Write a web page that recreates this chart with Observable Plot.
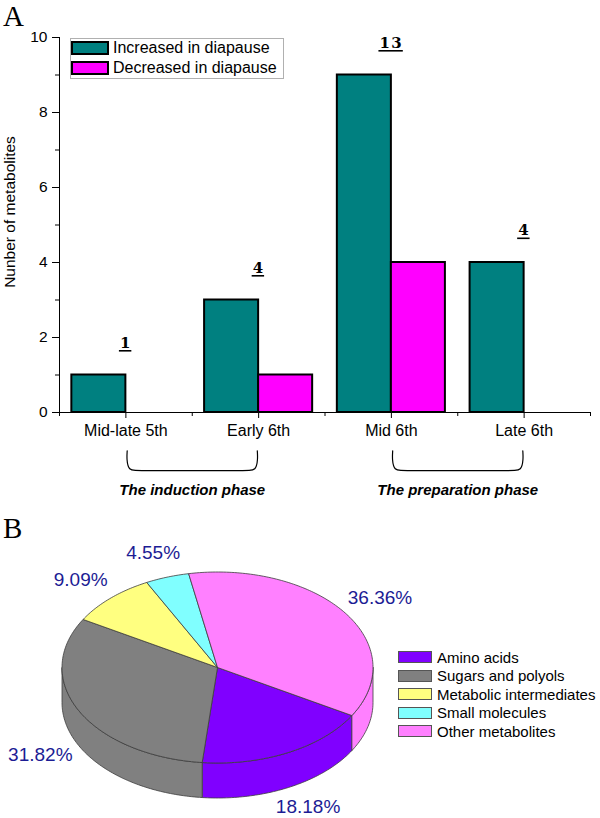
<!DOCTYPE html>
<html><head><meta charset="utf-8">
<script src="https://cdn.jsdelivr.net/npm/d3@7"></script>
<script src="https://cdn.jsdelivr.net/npm/@observablehq/plot@0.6"></script>
<style>
body{margin:0;background:#fff;}
#wrap{position:relative;width:600px;height:818px;font-family:"Liberation Sans",Arial,sans-serif;overflow:hidden;background:#fff;}
.abs{position:absolute;}
.panel{font-family:"Liberation Serif","Times New Roman",serif;font-size:29px;line-height:33px;}
</style></head><body><div id="wrap"></div>
<script>
// ---------- Data: panel A ----------
const stages = ["Mid-late 5th", "Early 6th", "Mid 6th", "Late 6th"];
const seriesNames = ["Increased in diapause", "Decreased in diapause"];
const increased = [1, 3, 9, 4];
const decreased = [0, 1, 4, 0];
const totals = [1, 4, 13, 4];
const yTicks = [0, 2, 4, 6, 8, 10];
const yMinorTicks = [1, 3, 5, 7, 9];
const yLabel = "Nunber of metabolites";
const phaseNames = ["The induction phase", "The preparation phase"];
const phaseFrom = [0, 2];   // stage index where bracket starts
const phaseTo = [1, 3];     // stage index where bracket ends

// ---------- Data: panel B ----------
const pieCategories = ["Amino acids", "Sugars and polyols", "Metabolic intermediates", "Small molecules", "Other metabolites"];
const pieShares = [18.18, 31.82, 9.09, 4.55, 36.36];
const pieLabels = ["18.18%", "31.82%", "9.09%", "4.55%", "36.36%"];

// ---------- Styles ----------
const barColors = ["#008080", "#ff00ff"];
const pieColors = ["#8000ff", "#808080", "#ffff80", "#80ffff", "#ff80ff"];
const FONT = '"Liberation Sans", Arial, sans-serif';
const TOTAL_FONT = '"DejaVu Serif", serif';

const wrap = document.getElementById("wrap");

// ================= Panel A =================
const bw = 0.407; // bar width in band units
const rows = [];
stages.forEach((s, i) => {
  rows.push({i, s, series: 0, v: increased[i]});
  rows.push({i, s, series: 1, v: decreased[i]});
});
const barRows = rows.filter(d => d.v > 0);

const totalRows = stages.map((s, i) => ({i, t: totals[i], top: Math.max(increased[i], decreased[i])}));

// bracket paths (y below zero -> below the axis)
const bTop = -1.02, bBot = -1.55, inset = 0.01;
const bracketPts = [];
phaseNames.forEach((name, k) => {
  const a = phaseFrom[k] + 0.5 + inset, b = phaseTo[k] + 0.5 - inset;
  const pts = [[a, bTop], [a - 0.004, bBot + 0.3], [a + 0.01, bBot], [a + 0.08, bBot], [b - 0.08, bBot], [b - 0.01, bBot], [b + 0.004, bBot + 0.3], [b, bTop]];
  pts.forEach(([x, y]) => bracketPts.push({k, x, y}));
});
const phaseRows = phaseNames.map((name, k) => ({name, x: (phaseFrom[k] + phaseTo[k]) / 2 + 0.5}));

const plotA = Plot.plot({
  width: 600, height: 515,
  marginTop: 37, marginBottom: 103, marginLeft: 59, marginRight: 10,
  x: {domain: [0, 4], axis: null},
  y: {domain: [0, 10], axis: null},
  style: {fontFamily: FONT, fontSize: "15px", color: "#000", background: "transparent", overflow: "visible"},
  marks: [
    Plot.axisY(yTicks, {tickSize: 7, tickPadding: 5, fontSize: 15.5, label: null, strokeWidth: 1}),
    Plot.axisY(yMinorTicks, {tickSize: 4, text: null, label: null}),
    Plot.axisX(stages.map((s, i) => i + 0.5), {tickSize: 6, tickPadding: 6, fontSize: 16, label: null,
      tickFormat: v => stages[Math.round(v - 0.5)]}),
    Plot.axisX(d3.range(0, stages.length + 1), {tickSize: 4, text: null, label: null}),
    Plot.rectY(barRows.filter(d => d.series === 0), {x1: d => d.i + 0.5 - bw, x2: d => d.i + 0.5, y1: 0, y2: "v",
      fill: barColors[0], stroke: "#000", strokeWidth: 2}),
    Plot.rectY(barRows.filter(d => d.series === 1), {x1: d => d.i + 0.5, x2: d => d.i + 0.5 + bw, y1: 0, y2: "v",
      fill: barColors[1], stroke: "#000", strokeWidth: 2}),
    Plot.ruleX([0], {stroke: "#000", strokeWidth: 1}),
    Plot.ruleY([0], {stroke: "#000", strokeWidth: 1}),
    Plot.text(totalRows, {x: d => d.i + 0.5, y: "top", text: d => String(d.t), dy: -32,
      fontFamily: TOTAL_FONT, fontWeight: "bold", fontSize: 15, fill: "#000"}),
    Plot.line(bracketPts, {x: "x", y: "y", z: "k", curve: "basis", stroke: "#000", strokeWidth: 1.2}),
    Plot.text(phaseRows, {x: "x", y: -2.08, text: "name", fontStyle: "italic", fontWeight: "bold", fontSize: 15, fill: "#000"})
  ]
});
plotA.style.position = "absolute";
plotA.style.left = "0px";
plotA.style.top = "0px";
wrap.appendChild(plotA);

// widen the total labels and underline them
d3.select(plotA).selectAll("g")
  .filter(function () { return (this.getAttribute("font-family") || "").includes("DejaVu Serif"); })
  .selectAll("text")
  .style("letter-spacing", "1.5px")
  .each(function () {
    const bb = this.getBBox();
    const tr = this.getAttribute("transform");
    const ln = document.createElementNS("http://www.w3.org/2000/svg", "line");
    ln.setAttribute("x1", bb.x - 1);
    ln.setAttribute("x2", bb.x + bb.width - 0.5);
    ln.setAttribute("y1", bb.y + bb.height - 1);
    ln.setAttribute("y2", bb.y + bb.height - 1);
    ln.setAttribute("stroke", "#000");
    ln.setAttribute("stroke-width", "1.6");
    if (tr) ln.setAttribute("transform", tr);
    this.parentNode.appendChild(ln);
  });

// y label (rotated)
const yl = document.createElement("div");
yl.className = "abs";
yl.textContent = yLabel;
Object.assign(yl.style, {left: "10px", top: "212px", fontSize: "15.5px", whiteSpace: "nowrap",
  transform: "translate(-50%,-50%) rotate(-90deg)", lineHeight: "16px"});
wrap.appendChild(yl);

// legend A
const legA = document.createElement("div");
legA.className = "abs";
Object.assign(legA.style, {left: "70px", top: "38px", width: "212px", height: "39px", border: "1px solid #b0b0b0", background: "#fff"});
wrap.appendChild(legA);
seriesNames.forEach((name, i) => {
  const row = document.createElement("div");
  row.className = "abs";
  Object.assign(row.style, {left: "71px", top: (41 + 20 * i) + "px", height: "14px", display: "flex", alignItems: "center"});
  const sw = document.createElement("div");
  Object.assign(sw.style, {width: "34px", height: "10px", border: "2px solid #000", background: barColors[i], boxSizing: "content-box"});
  const tx = document.createElement("div");
  tx.textContent = name;
  Object.assign(tx.style, {marginLeft: "4px", fontSize: "16px", lineHeight: "16px", whiteSpace: "nowrap"});
  row.appendChild(sw); row.appendChild(tx);
  wrap.appendChild(row);
});

// panel letters
["A", "B"].forEach((L, i) => {
  const d = document.createElement("div");
  d.className = "abs panel";
  d.textContent = L;
  Object.assign(d.style, {left: "3px", top: (i === 0 ? 0 : 512) + "px"});
  wrap.appendChild(d);
});

// ================= Panel B (3D pie) =================
const top0 = 510, hB = 308;
const cx = 217, cy = 667, rx = 155.5, ry = 95.5, depth = 35;
const startAngle = 30.2 * Math.PI / 180;
let acc = startAngle;
const slices = pieShares.map((p, i) => {
  const a0 = acc, a1 = acc + p / 100 * 2 * Math.PI;
  acc = a1;
  return {i, a0, a1};
});
function arcPts(a0, a1, yOff) {
  const n = Math.max(2, Math.ceil((a1 - a0) / (Math.PI / 180)));
  return d3.range(n + 1).map(k => {
    const a = a0 + (a1 - a0) * k / n;
    return [cx + rx * Math.cos(a), cy + yOff + ry * Math.sin(a)];
  });
}
const topRows = [];
slices.forEach(s => {
  const pts = [[cx, cy], ...arcPts(s.a0, s.a1, 0), [cx, cy]];
  pts.forEach(([x, y]) => topRows.push({key: "t" + s.i, cat: pieCategories[s.i], x, y}));
});
const wallRows = [];
slices.forEach(s => {
  [[0, Math.PI], [2 * Math.PI, 3 * Math.PI]].forEach(([w0, w1], wi) => {
    const lo = Math.max(s.a0, w0), hi = Math.min(s.a1, w1);
    if (hi > lo) {
      const pts = [...arcPts(lo, hi, 0), ...arcPts(lo, hi, depth).reverse()];
      pts.push(pts[0]);
      pts.forEach(([x, y]) => wallRows.push({key: "w" + s.i + "_" + wi, cat: pieCategories[s.i], x, y}));
    }
  });
});
const labelRows = slices.map(s => {
  const m = (s.a0 + s.a1) / 2;
  const sn = Math.sin(m);
  return {text: pieLabels[s.i], x: cx + 199 * Math.cos(m), y: cy + 121 * sn + (sn > 0 ? depth - 3 : 0)};
});

const plotB = Plot.plot({
  width: 600, height: hB,
  margin: 0,
  x: {domain: [0, 600], range: [0, 600], axis: null},
  y: {domain: [top0, top0 + hB], range: [0, hB], axis: null},
  color: {domain: pieCategories, range: pieColors},
  style: {fontFamily: FONT, background: "transparent", overflow: "visible"},
  marks: [
    Plot.line(wallRows, {x: "x", y: "y", z: "key", fill: "cat", stroke: "#3c3c3c", strokeWidth: 0.8, curve: "linear"}),
    Plot.line(topRows, {x: "x", y: "y", z: "key", fill: "cat", stroke: "#3c3c3c", strokeWidth: 0.8, curve: "linear"}),
    Plot.text(labelRows, {x: "x", y: "y", text: "text", fontSize: 19, fill: "#1c1c94"})
  ]
});
plotB.style.position = "absolute";
plotB.style.left = "0px";
plotB.style.top = top0 + "px";
wrap.appendChild(plotB);

// legend B
pieCategories.forEach((name, i) => {
  const row = document.createElement("div");
  row.className = "abs";
  Object.assign(row.style, {left: "398px", top: (651 + 18.5 * i) + "px", height: "12px", display: "flex", alignItems: "center"});
  const sw = document.createElement("div");
  Object.assign(sw.style, {width: "32px", height: "10px", border: "1px solid #555", background: pieColors[i], boxSizing: "content-box"});
  const tx = document.createElement("div");
  tx.textContent = name;
  Object.assign(tx.style, {marginLeft: "5px", fontSize: "15px", lineHeight: "15px", whiteSpace: "nowrap"});
  row.appendChild(sw); row.appendChild(tx);
  wrap.appendChild(row);
});
</script></body></html>
